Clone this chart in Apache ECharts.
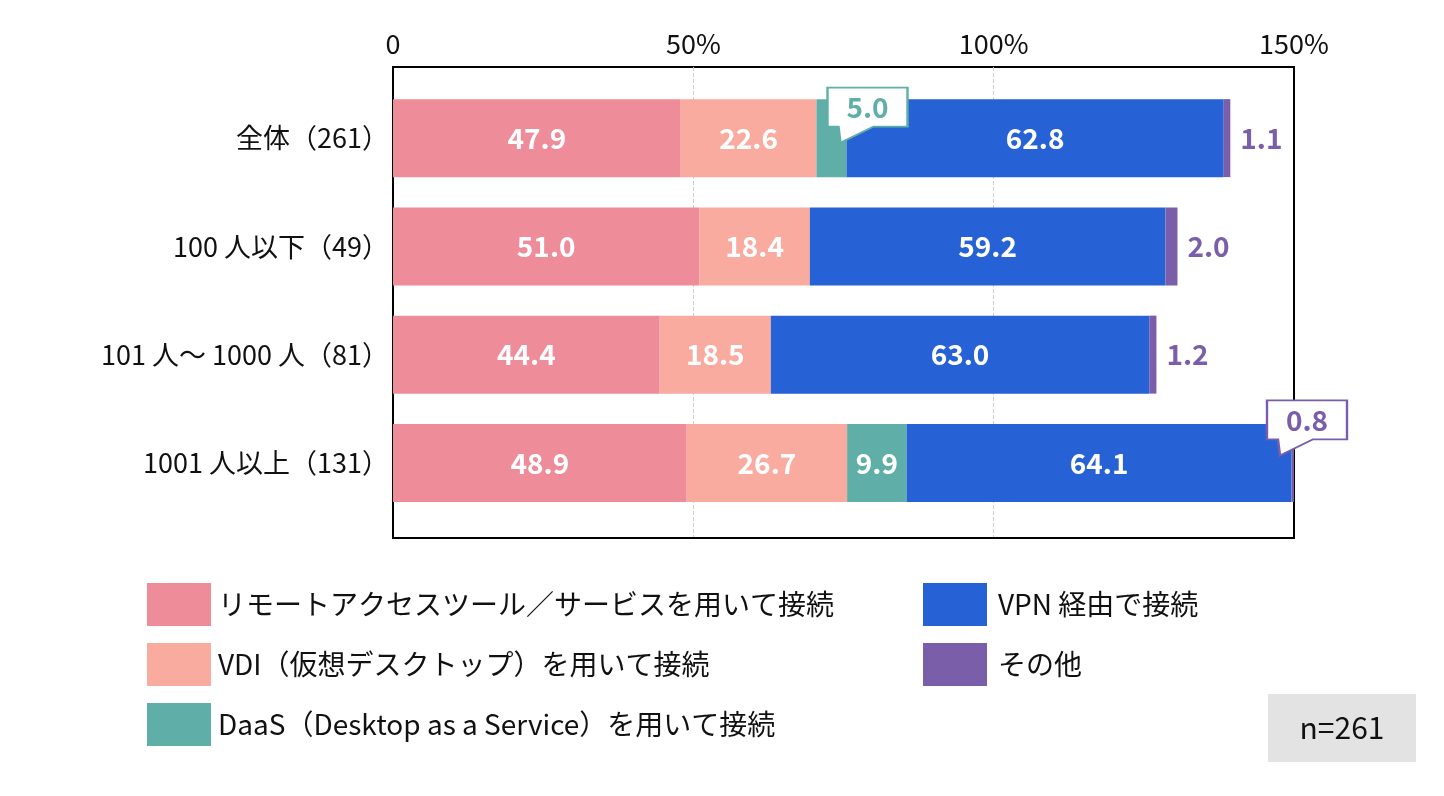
<!DOCTYPE html>
<html>
<head>
    <meta charset="utf-8">
    <title>リモート接続の方法</title>
    <script src="https://cdn.jsdelivr.net/npm/echarts@6/dist/echarts.min.js"></script>
    <style>
        html, body { margin: 0; padding: 0; background: #fff; }
        #main { width: 1444px; height: 796px; }
    </style>
</head>
<body>
<div id="main"></div>
<script type="text/javascript">
    var categories = ['全体（261）', '100 人以下（49）', '101 人～ 1000 人（81）', '1001 人以上（131）'];
    var seriesNames = [
        'リモートアクセスツール／サービスを用いて接続',
        'VDI（仮想デスクトップ）を用いて接続',
        'DaaS（Desktop as a Service）を用いて接続',
        'VPN 経由で接続',
        'その他'
    ];
    var remote = [47.9, 51.0, 44.4, 48.9];
    var vdi = [22.6, 18.4, 18.5, 26.7];
    var daas = [5.0, 0, 0, 9.9];
    var vpn = [62.8, 59.2, 63.0, 64.1];
    var other = [1.1, 2.0, 1.2, 0.8];
    var xTicks = [0, 50, 100, 150];
    var sampleLabel = 'n=261';
    // cells shown with a speech bubble instead of a plain label: [series index, row]
    var callouts = [[2, 0], [4, 3]];

    var colors = ['#EE8C99', '#F9ABA0', '#5FAFA8', '#2662D6', '#7B5EAA'];
    var values = [remote, vdi, daas, vpn, other];
    var font = '"Noto Sans CJK JP", "Noto Sans", sans-serif';

    function isCallout(s, row) {
        return callouts.some(function (c) { return c[0] === s && c[1] === row; });
    }

    var series = values.map(function (vals, s) {
        var last = s === values.length - 1;
        return {
            name: seriesNames[s],
            type: 'bar',
            stack: 'total',
            xAxisIndex: 1,
            yAxisIndex: 1,
            barWidth: 78,
            itemStyle: { color: colors[s] },
            label: {
                show: true,
                position: last ? 'right' : 'inside',
                distance: 10,
                fontFamily: font,
                fontWeight: 'bold',
                fontSize: 28,
                color: last ? colors[s] : '#fff',
                formatter: function (p) {
                    if (!p.value || isCallout(s, p.dataIndex)) return '';
                    return p.value.toFixed(1);
                }
            },
            data: vals
        };
    });

    // speech bubbles: anchored at the middle of their segment
    var nudges = [[36, -23], [13, -35]];
    var bubbleData = callouts.map(function (c, i) {
        var s = c[0], row = c[1], start = 0;
        for (var k = 0; k < s; k++) start += values[k][row];
        var v = values[s][row];
        return {
            value: [start + v / 2, row],
            symbolOffset: nudges[i],
            itemStyle: { color: '#fff', opacity: 1, borderColor: colors[s], borderWidth: 2 },
            label: { color: colors[s], formatter: v.toFixed(1) }
        };
    });
    series.push({
        type: 'scatter',
        xAxisIndex: 1,
        yAxisIndex: 1,
        symbol: 'path://M0,0 L80,0 L80,39 L46,39 L13,55 L11,39 L0,39 Z',
        symbolSize: [80, 55],
        silent: true,
        z: 5,
        itemStyle: { opacity: 1 },
        label: {
            show: true,
            position: 'inside',
            offset: [0, -8],
            fontFamily: font,
            fontWeight: 'bold',
            fontSize: 28
        },
        data: bubbleData
    });

    var legendText = { fontFamily: font, fontSize: 28, color: '#111' };

    var myChart = echarts.init(document.getElementById('main'));
    myChart.setOption({
        backgroundColor: '#fff',
        animation: false,
        grid: [
            { left: 393, right: 150, top: 67, bottom: 258, show: true, borderColor: '#000', borderWidth: 2 },
            { left: 393, right: 150, top: 84, bottom: 279 }
        ],
        xAxis: [{
            gridIndex: 0,
            type: 'value',
            position: 'top',
            min: xTicks[0],
            max: xTicks[xTicks.length - 1],
            interval: xTicks[1] - xTicks[0],
            axisLine: { show: true, lineStyle: { color: '#000', width: 2 } },
            axisTick: { show: false },
            splitLine: {
                show: true,
                showMinLine: false,
                showMaxLine: false,
                lineStyle: { color: '#cfcfcf', type: 'dashed', width: 1 }
            },
            axisLabel: {
                fontFamily: font,
                fontSize: 27,
                color: '#111',
                margin: 10,
                formatter: function (v) { return v === 0 ? '0' : v + '%'; }
            }
        }, {
            gridIndex: 1,
            type: 'value',
            min: xTicks[0],
            max: xTicks[xTicks.length - 1],
            show: false
        }],
        yAxis: [{
            gridIndex: 0,
            type: 'value',
            show: false
        }, {
            gridIndex: 1,
            type: 'category',
            inverse: true,
            data: categories,
            axisLine: { show: false },
            axisTick: { show: false },
            axisLabel: {
                fontFamily: font,
                fontSize: 27,
                color: '#111',
                margin: 4
            }
        }],
        legend: [{
            orient: 'vertical',
            left: 147,
            top: 583,
            padding: 0,
            itemWidth: 64,
            itemHeight: 43,
            itemGap: 17,
            icon: 'rect',
            textStyle: Object.assign({ padding: [0, 0, 0, 2] }, legendText),
            data: seriesNames.slice(0, 3)
        }, {
            orient: 'vertical',
            left: 923,
            top: 583,
            padding: 0,
            itemWidth: 64,
            itemHeight: 43,
            itemGap: 17,
            icon: 'rect',
            textStyle: Object.assign({ padding: [0, 0, 0, 6] }, legendText),
            data: seriesNames.slice(3)
        }],
        graphic: [{
            type: 'group',
            left: 1268,
            top: 694,
            children: [{
                type: 'rect',
                shape: { x: 0, y: 0, width: 148, height: 68 },
                style: { fill: '#E3E3E3' }
            }, {
                type: 'text',
                x: 74,
                y: 34,
                style: {
                    text: sampleLabel,
                    fontFamily: font,
                    fontSize: 30,
                    fill: '#111',
                    align: 'center',
                    verticalAlign: 'middle'
                }
            }]
        }],
        series: series
    });
</script>
</body>
</html>
